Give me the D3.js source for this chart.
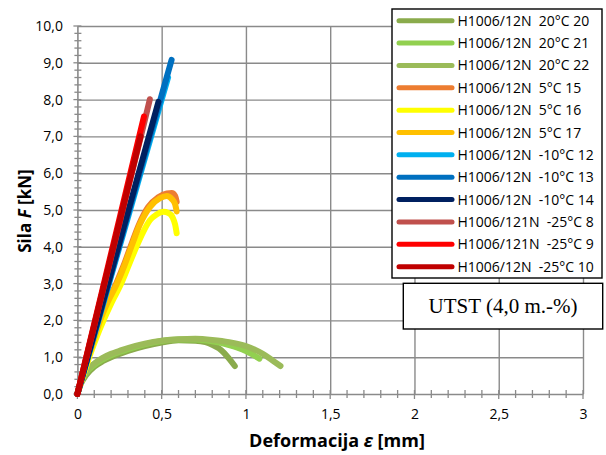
<!DOCTYPE html>
<html>
<head>
<meta charset="utf-8">
<script src="https://cdn.jsdelivr.net/npm/d3@7"></script>
<style>
  html, body { margin: 0; padding: 0; background: #fff; }
  svg { display: block; }
  text { white-space: pre; }
</style>
</head>
<body>
<script>
// ---- Data (ε [mm], F [kN]) ----
const s20_20 = [[0,0],[0.02,0.27],[0.05,0.5],[0.1,0.74],[0.15,0.89],[0.2,1.0],[0.25,1.09],[0.3,1.17],[0.4,1.3],[0.5,1.4],[0.6,1.46],[0.7,1.45],[0.76,1.41],[0.8,1.34],[0.84,1.24],[0.87,1.12],[0.9,0.96],[0.934,0.76]];
const s20_21 = [[0,0],[0.02,0.31],[0.05,0.56],[0.1,0.79],[0.15,0.94],[0.2,1.05],[0.25,1.14],[0.3,1.22],[0.4,1.35],[0.5,1.44],[0.6,1.48],[0.7,1.48],[0.8,1.43],[0.9,1.33],[0.95,1.26],[1.0,1.17],[1.04,1.07],[1.08,0.96]];
const s20_22 = [[0,0],[0.02,0.34],[0.05,0.6],[0.1,0.83],[0.15,0.98],[0.2,1.09],[0.25,1.17],[0.3,1.25],[0.4,1.37],[0.5,1.45],[0.6,1.49],[0.7,1.5],[0.8,1.47],[0.9,1.41],[1.0,1.3],[1.05,1.21],[1.1,1.09],[1.15,0.94],[1.205,0.76]];
const s5_15 = [[0,0],[0.03,0.5],[0.065,1.0],[0.1,1.5],[0.135,2.0],[0.18,2.5],[0.23,3.0],[0.275,3.5],[0.315,4.0],[0.365,4.6],[0.42,5.08],[0.48,5.35],[0.53,5.45],[0.56,5.46],[0.58,5.38],[0.589,5.22]];
const s5_16 = [[0,0],[0.035,0.5],[0.07,1.0],[0.11,1.5],[0.155,2.0],[0.205,2.5],[0.26,3.0],[0.305,3.5],[0.35,4.0],[0.39,4.4],[0.43,4.72],[0.47,4.88],[0.51,4.95],[0.54,4.92],[0.565,4.8],[0.58,4.6],[0.589,4.37]];
const s5_17 = [[0,0],[0.03,0.5],[0.065,1.0],[0.1,1.5],[0.135,2.0],[0.18,2.5],[0.235,3.0],[0.28,3.5],[0.32,4.0],[0.37,4.6],[0.43,5.08],[0.49,5.32],[0.53,5.38],[0.56,5.3],[0.58,5.15],[0.589,4.96]];
const sm10_12 = [[0,0],[0.1,1.6],[0.2,3.2],[0.3,4.8],[0.4,6.4],[0.5,8.0],[0.538,8.6]];
const sm10_13 = [[0,0],[0.1,1.63],[0.2,3.25],[0.3,4.88],[0.4,6.5],[0.5,8.12],[0.559,9.08]];
const sm10_14 = [[0,0],[0.1,1.65],[0.2,3.3],[0.3,4.95],[0.4,6.6],[0.481,7.94]];
const sm25_8 = [[0,0],[0.1,1.86],[0.2,3.72],[0.3,5.58],[0.4,7.44],[0.43,8.01]];
const sm25_9 = [[0,0],[0.1,1.91],[0.2,3.82],[0.3,5.73],[0.395,7.54]];
const sm25_10 = [[0,0],[0.1,1.87],[0.2,3.74],[0.3,5.61],[0.375,7.0]];

const seriesNames = ["H1006/12N  20°C 20","H1006/12N  20°C 21","H1006/12N  20°C 22",
  "H1006/12N  5°C 15","H1006/12N  5°C 16","H1006/12N  5°C 17",
  "H1006/12N  -10°C 12","H1006/12N  -10°C 13","H1006/12N  -10°C 14",
  "H1006/121N  -25°C 8","H1006/121N  -25°C 9","H1006/12N  -25°C 10"];
const seriesData = [s20_20, s20_21, s20_22, s5_15, s5_16, s5_17, sm10_12, sm10_13, sm10_14, sm25_8, sm25_9, sm25_10];
const seriesColors = ["#8aab4c","#92d050","#9bbb59","#ed7d31","#ffff00","#ffc000",
  "#00b0f0","#0070c0","#002060","#c0504d","#ff0000","#c00000"];

const xMajor = [0,0.5,1,1.5,2,2.5,3];
const xMajorLabels = ["0","0,5","1","1,5","2","2,5","3"];
const yMajor = [0,1,2,3,4,5,6,7,8,9,10];
const yMajorLabels = ["0,0","1,0","2,0","3,0","4,0","5,0","6,0","7,0","8,0","9,0","10,0"];
const xMinor = d3.range(0, 31).map(i => i / 10);
const yMinor = d3.range(0, 51).map(i => i / 5);

// ---- Layout ----
const W = 606, H = 455;
const x0 = 77.4, x1 = 583, yTop = 26, yBot = 394;
const x = d3.scaleLinear().domain([0, 3]).range([x0, x1]);
const y = d3.scaleLinear().domain([0, 10]).range([yBot, yTop]);
const gridColor = "#8a8a8a";

const svg = d3.select("body").append("svg").attr("width", W).attr("height", H);
svg.append("rect").attr("width", W).attr("height", H).attr("fill", "#fff");

// gridlines
const grid = svg.append("g");
grid.append("g").attr("transform", `translate(0,${yBot})`)
  .call(d3.axisBottom(x).tickValues(xMajor.slice(1)).tickSize(-(yBot - yTop)).tickFormat(""))
  .call(g => g.select(".domain").remove())
  .call(g => g.selectAll("line").attr("stroke", gridColor).attr("stroke-width", 1.4));
grid.append("g").attr("transform", `translate(${x0},0)`)
  .call(d3.axisLeft(y).tickValues(yMajor.slice(1)).tickSize(-(x1 - x0)).tickFormat(""))
  .call(g => g.select(".domain").remove())
  .call(g => g.selectAll("line").attr("stroke", gridColor).attr("stroke-width", 1.4));

// minor ticks (crossing the axes)
svg.append("g").selectAll("line").data(yMinor).join("line")
  .attr("x1", d => (d % 1 === 0) ? x0 - 4 : x0 - 3).attr("x2", x0 + 4)
  .attr("y1", d => y(d)).attr("y2", d => y(d))
  .attr("stroke", gridColor).attr("stroke-width", 1.3);
svg.append("g").selectAll("line").data(xMinor).join("line")
  .attr("x1", d => x(d)).attr("x2", d => x(d))
  .attr("y1", yBot - 4).attr("y2", d => (Math.abs(d * 2 - Math.round(d * 2)) < 1e-6) ? yBot + 5 : yBot + 4)
  .attr("stroke", gridColor).attr("stroke-width", 1.3);

// axes with labels
const fontSans = "'Open Sans', 'Liberation Sans', sans-serif";
svg.append("g").attr("transform", `translate(${x0},0)`)
  .call(d3.axisLeft(y).tickValues(yMajor).tickSize(0).tickPadding(14.5).tickFormat((d, i) => yMajorLabels[i]))
  .call(g => g.select(".domain").attr("stroke", gridColor).attr("stroke-width", 1.6))
  .call(g => g.selectAll("text").attr("font-family", fontSans).attr("font-size", 14).attr("fill", "#000"));
svg.append("g").attr("transform", `translate(0,${yBot})`)
  .call(d3.axisBottom(x).tickValues(xMajor).tickSize(0).tickPadding(15).tickFormat((d, i) => xMajorLabels[i]))
  .call(g => g.select(".domain").attr("stroke", gridColor).attr("stroke-width", 1.6))
  .call(g => g.selectAll("text").attr("font-family", fontSans).attr("font-size", 14).attr("fill", "#000"));

// series
const line = d3.line().x(d => x(d[0])).y(d => y(d[1])).curve(d3.curveMonotoneX);
svg.append("g").selectAll("path").data(seriesData).join("path")
  .attr("d", d => line(d))
  .attr("fill", "none")
  .attr("stroke", (d, i) => seriesColors[i])
  .attr("stroke-width", 6)
  .attr("stroke-linecap", "round")
  .attr("stroke-linejoin", "round");

// axis titles
const yt = svg.append("text")
  .attr("transform", "translate(31,211) rotate(-90)")
  .attr("text-anchor", "middle")
  .attr("font-family", fontSans).attr("font-size", 17).attr("font-weight", "bold");
yt.append("tspan").text("Sila ");
yt.append("tspan").attr("font-style", "italic").text("F");
yt.append("tspan").text(" [kN]");

const xt = svg.append("text")
  .attr("x", 337).attr("y", 447)
  .attr("text-anchor", "middle")
  .attr("font-family", fontSans).attr("font-size", 18).attr("font-weight", "bold");
xt.append("tspan").text("Deformacija ");
xt.append("tspan").attr("font-style", "italic").text("ε");
xt.append("tspan").text(" [mm]");

// legend
const lg = svg.append("g");
lg.append("rect").attr("x", 392).attr("y", 9).attr("width", 210).attr("height", 269)
  .attr("fill", "#fff").attr("stroke", "#000").attr("stroke-width", 1.4);
const rowY = i => 20.7 + i * 22.36;
lg.selectAll("line").data(seriesNames).join("line")
  .attr("x1", 399).attr("x2", 452)
  .attr("y1", (d, i) => rowY(i)).attr("y2", (d, i) => rowY(i))
  .attr("stroke", (d, i) => seriesColors[i]).attr("stroke-width", 5).attr("stroke-linecap", "round");
lg.selectAll("text").data(seriesNames).join("text")
  .attr("x", 457.5).attr("y", (d, i) => rowY(i)).attr("dy", "0.36em")
  .attr("font-family", fontSans).attr("font-size", 14).attr("fill", "#000")
  .text(d => d);

// UTST box
svg.append("rect").attr("x", 403.3).attr("y", 283.3).attr("width", 199.4).attr("height", 45.7)
  .attr("fill", "#fff").attr("stroke", "#000").attr("stroke-width", 1.4);
svg.append("text").attr("x", 503).attr("y", 313.3).attr("text-anchor", "middle")
  .attr("font-family", "'Liberation Serif', 'Times New Roman', serif").attr("font-size", 21)
  .text("UTST (4,0 m.-%)");
</script>
</body>
</html>
